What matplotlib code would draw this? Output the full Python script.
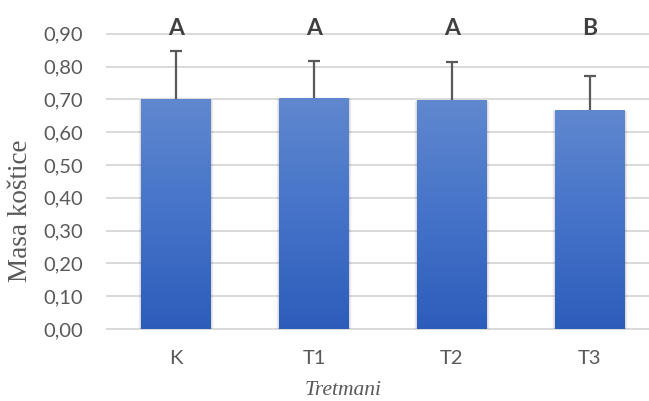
import numpy as np
import matplotlib.pyplot as plt
from matplotlib.colors import LinearSegmentedColormap

# ---------------- DATA ---------------- #
categories = ["K", "T1", "T2", "T3"]
means = [0.701, 0.704, 0.698, 0.668]
errors = [0.147, 0.113, 0.116, 0.103]
letters = ["A", "A", "A", "B"]
yticks = [0.0, 0.1, 0.2, 0.3, 0.4, 0.5, 0.6, 0.7, 0.8, 0.9]
# -------------------------------------- #

fig = plt.figure(figsize=(6.49, 4.01), dpi=100)
ax = fig.add_axes([107 / 649, (401 - 329) / 401, (649 - 107) / 649, (329 - 10) / 401])

x = np.arange(len(categories))
width = 0.507

# gridlines
for t in yticks:
    ax.axhline(t, color="#d9d9d9", lw=1.4, zorder=0, clip_on=False)

cmap = LinearSegmentedColormap.from_list("bar", ["#2d5dbb", "#4573c9", "#6088cf"])
grad = np.linspace(0, 1, 256).reshape(-1, 1)

bars = ax.bar(x, means, width=width, color="none", zorder=2)
for b in bars:
    # soft shadow
    for i, a in enumerate([0.06, 0.04, 0.025, 0.015]):
        d = 0.006 * (i + 1)
        ax.add_patch(plt.Rectangle((b.get_x() - d, 0), b.get_width() + 2 * d,
                                   b.get_height() - 0.004, color="k", alpha=a,
                                   lw=0, zorder=1))
    im = ax.imshow(grad, cmap=cmap, aspect="auto", origin="lower",
                   extent=[b.get_x(), b.get_x() + b.get_width(), 0, b.get_height()],
                   zorder=2)
    im.set_clip_path(b)

# upper error bars only
tops = np.array(means) + np.array(errors)
ax.vlines(x, means, tops, color="#595959", lw=1.6, zorder=3)
ax.hlines(tops, x - 0.044, x + 0.044, color="#595959", lw=1.6, zorder=3)

for xi, lab in zip(x, letters):
    ax.text(xi, 0.915, lab, ha="center", va="center", fontsize=16.5,
            fontweight="bold", color="#404040", family="Lato")

ax.set_xlim(-0.5, 3.5 - 10 / 138)
ax.set_ylim(0, 0.9726)
ax.set_xticks(x)
ax.set_xticklabels(categories)
ax.set_yticks(yticks)
ax.set_yticklabels([f"{t:.2f}".replace(".", ",") for t in yticks])
ax.tick_params(axis="both", length=0, labelsize=14.5, colors="#595959")
for lbl in ax.get_xticklabels() + ax.get_yticklabels():
    lbl.set_family("Lato")
ax.tick_params(axis="y", pad=17)
ax.tick_params(axis="x", pad=15)
for s in ax.spines.values():
    s.set_visible(False)

ax.set_ylabel("Masa koštice", family="Liberation Serif", fontsize=19.5,
              color="#595959")
ax.yaxis.set_label_coords(-0.136, 0.37)
ax.set_xlabel("Tretmani", family="Liberation Serif", fontsize=15.5,
              style="italic", color="#595959")
ax.xaxis.set_label_coords(0.435, -0.163)

fig.savefig("out.png", dpi=100)
